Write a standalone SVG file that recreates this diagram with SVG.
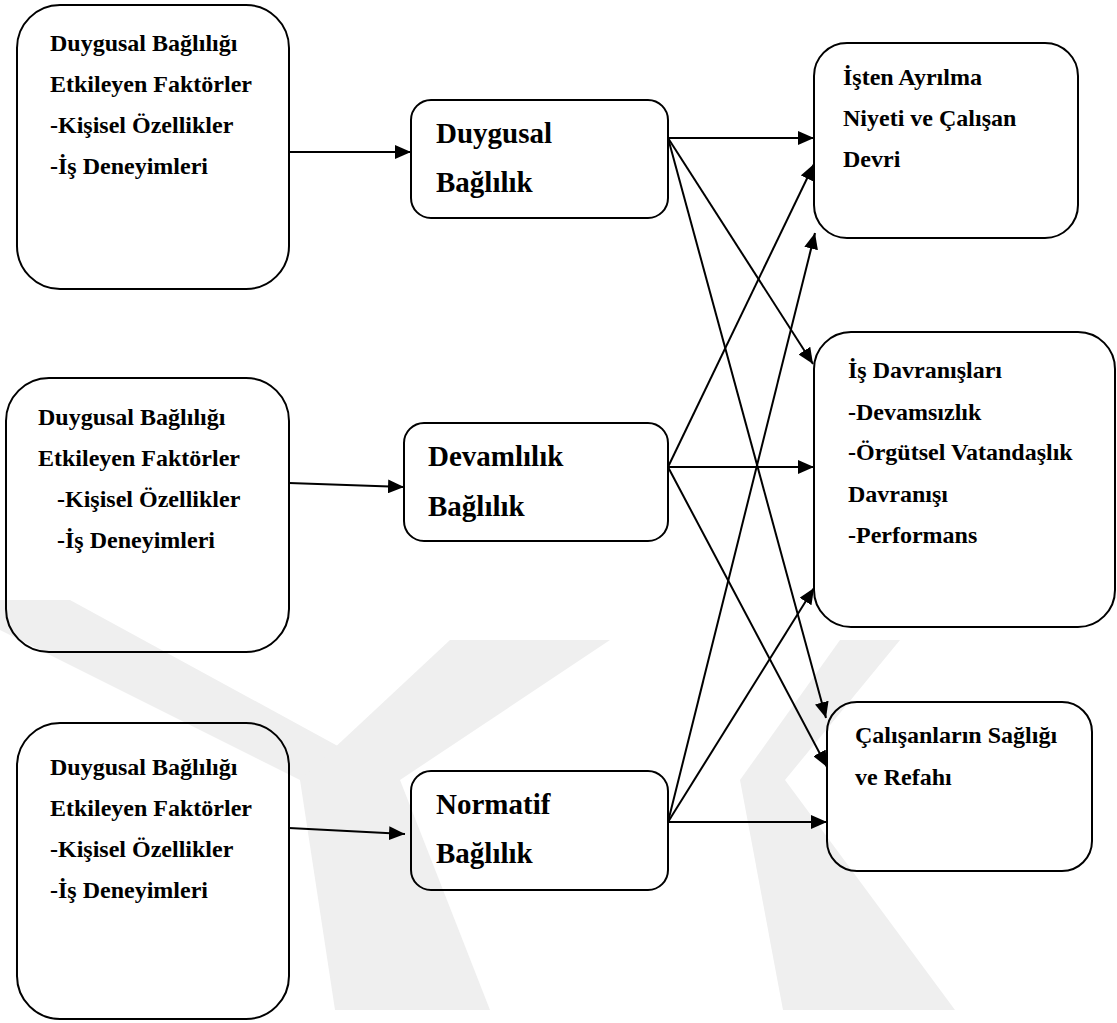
<svg xmlns="http://www.w3.org/2000/svg" width="1117" height="1023" viewBox="0 0 1117 1023">
  <style>
    .box { fill: none; stroke: #000; stroke-width: 2; }
    .t { font-family: "Liberation Serif", "Times New Roman", serif; font-weight: bold; font-size: 24px; fill: #000; }
    .tb { font-family: "Liberation Serif", "Times New Roman", serif; font-weight: bold; font-size: 29px; fill: #000; }
    .link { stroke: #000; stroke-width: 2; fill: none; marker-end: url(#arrow); }
    .wm { fill: #efefef; }
  </style>
  <defs>
    <marker id="arrow" markerUnits="userSpaceOnUse" markerWidth="16" markerHeight="14" refX="16" refY="7" orient="auto">
      <path d="M0,0 L16,7 L0,14 z" fill="#000"/>
    </marker>
  </defs>

  <rect width="1117" height="1023" fill="#fff"/>

  <!-- background emblem -->
  <g id="emblem">
    <polygon class="wm" points="-60,600 70,600 400,780 300,780"/>
    <polygon class="wm" points="450,640 610,640 400,780 300,780"/>
    <polygon class="wm" points="300,780 400,780 490,1010 335,1010"/>
    <polygon class="wm" points="840,640 900,640 785,780 740,780"/>
    <polygon class="wm" points="740,780 785,780 955,1010 783,1010"/>
  </g>

  <!-- connectors -->
  <g id="connectors">
    <line class="link" x1="289" y1="152" x2="411" y2="152"/>
    <line class="link" x1="289" y1="483" x2="404" y2="487"/>
    <line class="link" x1="289" y1="828" x2="405" y2="834"/>
    <line class="link" x1="668" y1="138" x2="814" y2="138"/>
    <line class="link" x1="668" y1="138" x2="813" y2="364"/>
    <line class="link" x1="668" y1="138" x2="826" y2="718"/>
    <line class="link" x1="668" y1="467" x2="814" y2="164"/>
    <line class="link" x1="668" y1="467" x2="814" y2="467"/>
    <line class="link" x1="668" y1="467" x2="827" y2="767"/>
    <line class="link" x1="668" y1="822" x2="815" y2="233"/>
    <line class="link" x1="668" y1="822" x2="814" y2="588"/>
    <line class="link" x1="668" y1="822" x2="827" y2="822"/>
  </g>

  <!-- antecedent boxes -->
  <g id="factors-1">
    <rect class="box" x="17" y="5" width="272" height="284" rx="43"/>
    <text class="t" x="50" y="51">Duygusal Bağlılığı</text>
    <text class="t" x="50" y="92">Etkileyen Faktörler</text>
    <text class="t" x="50" y="133">-Kişisel Özellikler</text>
    <text class="t" x="50" y="174">-İş Deneyimleri</text>
  </g>
  <g id="factors-2">
    <rect class="box" x="6" y="378" width="283" height="274" rx="43"/>
    <text class="t" x="38" y="425">Duygusal Bağlılığı</text>
    <text class="t" x="38" y="466">Etkileyen Faktörler</text>
    <text class="t" x="57" y="507">-Kişisel Özellikler</text>
    <text class="t" x="57" y="548">-İş Deneyimleri</text>
  </g>
  <g id="factors-3">
    <rect class="box" x="17" y="723" width="272" height="296" rx="43"/>
    <text class="t" x="50" y="775">Duygusal Bağlılığı</text>
    <text class="t" x="50" y="816">Etkileyen Faktörler</text>
    <text class="t" x="50" y="857">-Kişisel Özellikler</text>
    <text class="t" x="50" y="898">-İş Deneyimleri</text>
  </g>

  <!-- commitment types -->
  <g id="affective">
    <rect class="box" x="411" y="100" width="257" height="118" rx="20"/>
    <text class="tb" x="436" y="143">Duygusal</text>
    <text class="tb" x="436" y="192">Bağlılık</text>
  </g>
  <g id="continuance">
    <rect class="box" x="404" y="423" width="264" height="118" rx="20"/>
    <text class="tb" x="428" y="466">Devamlılık</text>
    <text class="tb" x="428" y="516">Bağlılık</text>
  </g>
  <g id="normative">
    <rect class="box" x="411" y="771" width="257" height="119" rx="20"/>
    <text class="tb" x="436" y="814">Normatif</text>
    <text class="tb" x="436" y="863">Bağlılık</text>
  </g>

  <!-- outcomes -->
  <g id="turnover">
    <rect class="box" x="814" y="43" width="264" height="195" rx="33"/>
    <text class="t" x="843" y="85">İşten Ayrılma</text>
    <text class="t" x="843" y="126">Niyeti ve Çalışan</text>
    <text class="t" x="843" y="167">Devri</text>
  </g>
  <g id="behaviour">
    <rect class="box" x="814" y="332" width="301" height="295" rx="37"/>
    <text class="t" x="848" y="378">İş Davranışları</text>
    <text class="t" x="848" y="420">-Devamsızlık</text>
    <text class="t" x="848" y="460">-Örgütsel Vatandaşlık</text>
    <text class="t" x="848" y="502">Davranışı</text>
    <text class="t" x="848" y="543">-Performans</text>
  </g>
  <g id="wellbeing">
    <rect class="box" x="827" y="702" width="265" height="169" rx="30"/>
    <text class="t" x="855" y="743">Çalışanların Sağlığı</text>
    <text class="t" x="855" y="785">ve Refahı</text>
  </g>
</svg>
